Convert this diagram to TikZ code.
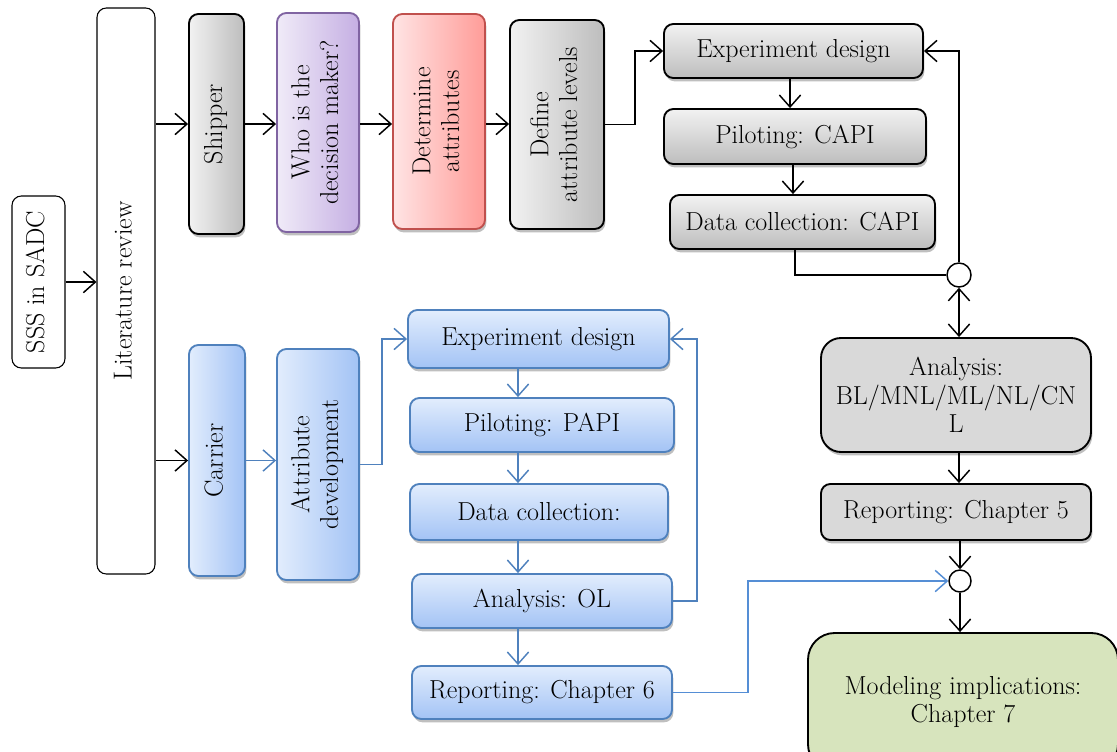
\documentclass[tikz,border=0pt]{standalone}
\usepackage{fontspec}
\usepackage{graphicx}
\usetikzlibrary{arrows.meta,shadows,calc}
\definecolor{gl}{HTML}{F2F2F2}
\definecolor{gd}{HTML}{BDBDBD}
\definecolor{gflat}{HTML}{D9D9D9}
\definecolor{bl}{HTML}{E2EDFD}
\definecolor{bd}{HTML}{A3C3F5}
\definecolor{bborder}{HTML}{4F81BD}
\definecolor{bline}{HTML}{558ED5}
\definecolor{pl}{HTML}{F0EBF8}
\definecolor{pd}{HTML}{C5AFE3}
\definecolor{pborder}{HTML}{8064A2}
\definecolor{rl}{HTML}{FFE4E4}
\definecolor{rd}{HTML}{FF9C98}
\definecolor{rborder}{HTML}{C0504D}
\definecolor{green}{HTML}{D7E4BD}
\newcommand{\rtext}[1]{\rotatebox{90}{\begin{tabular}{@{}c@{}}#1\end{tabular}}}
\tikzset{
  wh/.style 2 args={minimum width=#1*0.75pt, minimum height=#2*0.75pt},
  base/.style={rectangle, rounded corners=7pt, inner sep=0pt, align=center,
    font=\fontsize{19.5}{21.5}\selectfont},
  shad/.style={drop shadow={shadow xshift=1pt, shadow yshift=-2.5pt, opacity=0.25, fill=black}},
  plainbox/.style={base, draw=black, line width=0.8pt, fill=white},
  grayv/.style={base, shad, draw=black, line width=1.4pt, left color=gl, right color=gd},
  grayh/.style={base, shad, draw=black, line width=1.4pt, top color=gl, bottom color=gd},
  grayflat/.style={base, shad, draw=black, line width=1.4pt, fill=gflat},
  purplev/.style={base, shad, draw=pborder, line width=1.4pt, left color=pl, right color=pd},
  redv/.style={base, shad, draw=rborder, line width=1.4pt, left color=rl, right color=rd},
  bluev/.style={base, shad, draw=bborder, line width=1.4pt, left color=bl, right color=bd},
  blueh/.style={base, shad, draw=bborder, line width=1.4pt, top color=bl, bottom color=bd},
  greenbox/.style={base, rounded corners=20pt, draw=black, line width=1.4pt, fill=green},
  junction/.style={circle, draw=black, line width=1.1pt, fill=white, inner sep=0pt},
  arr/.style={-{Straight Barb[length=9pt,width=16pt]}, line width=1.1pt, black},
  barr/.style={arr, bborder},
  arrboth/.style={{Straight Barb[length=9pt,width=16pt]}-{Straight Barb[length=9pt,width=16pt]}, line width=1.1pt},
  link/.style={line width=1.1pt}
}
\begin{document}
\begin{tikzpicture}[x=0.75pt,y=-0.75pt]
\useasboundingbox (0,0) rectangle (1117,751);
% left column
\node[plainbox, wh={53}{172}] (sss) at (38.5,282) {\rtext{SSS in SADC}};
\node[plainbox, wh={58}{566}] (lit) at (126,291) {\rtext{Literature review}};
% shipper branch
\node[grayv, wh={55}{220}] (ship) at (216.5,124) {\rtext{Shipper}};
\node[purplev, wh={82}{219}] (who) at (318,122.5) {\rtext{Who is the\\decision maker?}};
\node[redv, wh={92}{215}] (det) at (439,121.5) {\rtext{Determine\\attributes}};
\node[grayv, wh={94}{209}] (def) at (557,124.5) {\rtext{Define\\attribute levels}};
\node[grayh, wh={259}{54}] (exp1) at (793.5,51) {Experiment design};
\node[grayh, wh={262}{55}] (pil1) at (795,136.5) {Piloting: CAPI};
\node[grayh, wh={265}{54}] (dat1) at (802.5,222) {Data collection: CAPI};
\node[junction, minimum size=24*0.75pt] (c1) at (959,275) {};
\node[grayflat, rounded corners=15pt, wh={270}{114}] (ana) at (956,395) {Analysis:\\BL/MNL/ML/NL/CN\\L};
\node[grayflat, wh={270}{56}] (rep5) at (956,512) {Reporting: Chapter 5};
\node[junction, minimum size=22*0.75pt] (c2) at (960,581) {};
\node[greenbox, wh={310}{138}] (mod) at (963,702) {Modeling implications:\\Chapter 7};
% carrier branch
\node[bluev, wh={56}{231}] (car) at (217,460.5) {\rtext{Carrier}};
\node[bluev, wh={82}{231}] (att) at (318,464.5) {\rtext{Attribute\\development}};
\node[blueh, wh={261}{58}] (exp2) at (538.5,339) {Experiment design};
\node[blueh, wh={264}{54}] (pil2) at (542,425) {Piloting: PAPI};
\node[blueh, wh={258}{56}] (dat2) at (539,512) {Data collection:};
\node[blueh, wh={260}{54}] (ana2) at (542,601) {Analysis: OL};
\node[blueh, wh={260}{53}] (rep6) at (542,692.5) {Reporting: Chapter 6};
\coordinate (bx) at (518,0);
\coordinate (gx) at (790,0);
\coordinate (gx2) at (793,0);
\coordinate (dx) at (795,0);
% black connectors
\draw[arr] (sss.east) -- (sss.east -| lit.west);
\draw[arr] (lit.east |- ship.west) -- (ship.west);
\draw[arr] (lit.east |- car.west) -- (car.west);
\draw[arr] (ship.east) -- (ship.east -| who.west);
\draw[arr] (who.east |- ship.east) -- (det.west |- ship.east);
\draw[arr] (det.east |- ship.east) -- (def.west |- ship.east);
\draw[arr] (def.east) -- ++(30,0) |- (exp1.west);
\draw[arr] (exp1.south -| gx) -- (pil1.north -| gx);
\draw[arr] (pil1.south -| gx2) -- (dat1.north -| gx2);
\draw[link] (dat1.south -| dx) |- (c1.west);
\draw[arr] (c1.north) |- (exp1.east);
\draw[arrboth] (c1.south) -- (c1.south |- ana.north);
\draw[arr] (c1.south |- ana.south) -- (c1.south |- rep5.north);
\draw[arr] (c2.north |- rep5.south) -- (c2.north);
\draw[arr] (c2.south) -- (c2.south |- mod.north);
% blue connectors
\draw[barr] (car.east) -- (car.east -| att.west);
\draw[barr] (att.east) -- ++(22,0) |- (exp2.west);
\draw[barr] (exp2.south -| bx) -- (pil2.north -| bx);
\draw[barr] (pil2.south -| bx) -- (dat2.north -| bx);
\draw[barr] (dat2.south -| bx) -- (ana2.north -| bx);
\draw[barr] (ana2.south -| bx) -- (rep6.north -| bx);
\draw[barr] (ana2.east) -- ++(24,0) |- (exp2.east);
\draw[barr, bline] (rep6.east) -- ++(75,0) |- (c2.west);
\end{tikzpicture}
\end{document}
